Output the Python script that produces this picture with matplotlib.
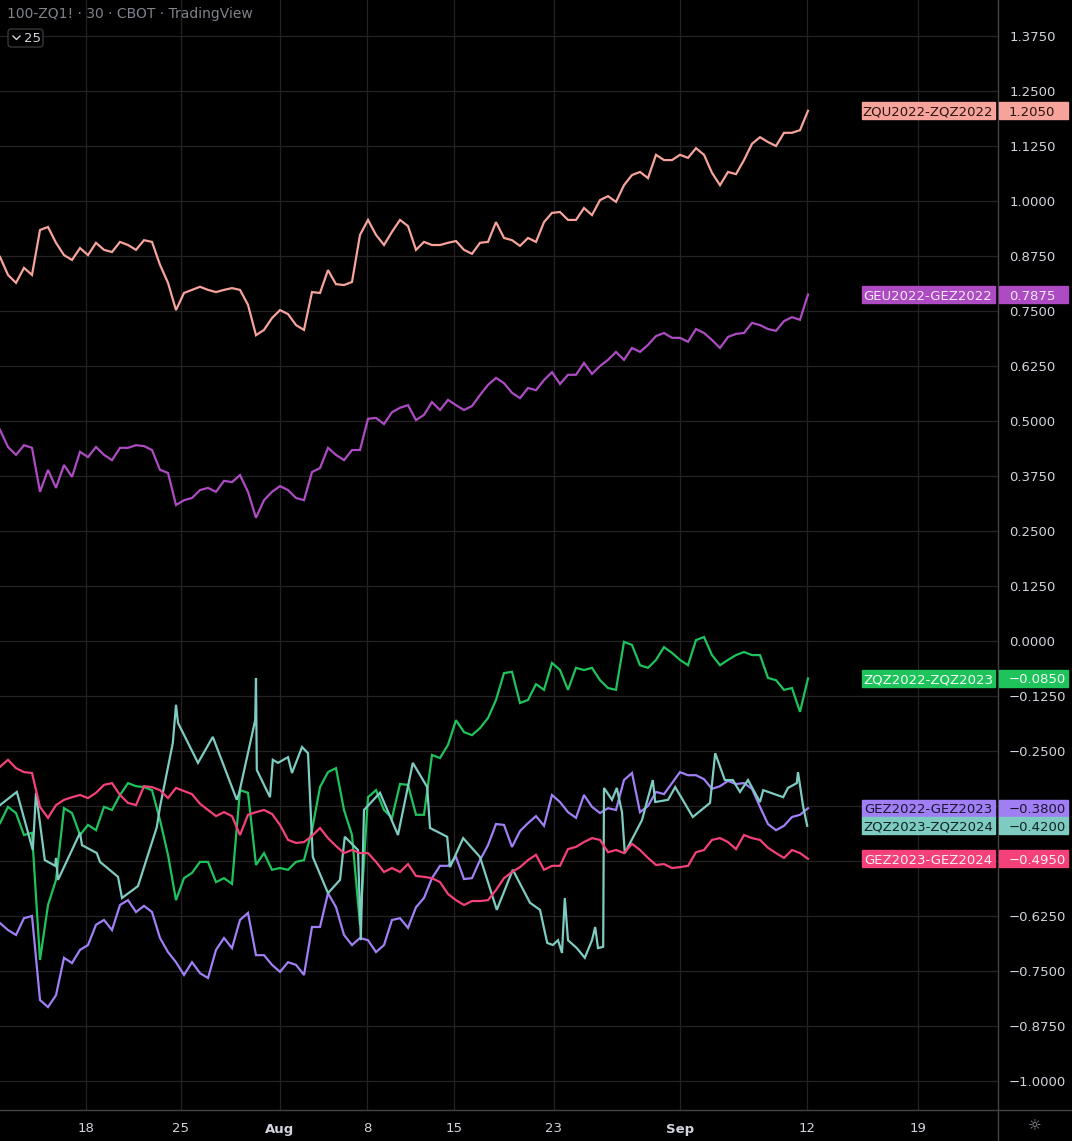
import numpy as np
import matplotlib.pyplot as plt
import matplotlib.transforms as mtransforms
from matplotlib.lines import Line2D
from matplotlib.patches import Rectangle, FancyBboxPatch

# spread closes off the 30 min chart, read every ~4 bars (index = bar / 4)
zqu_zqz22 = [0.873, 0.832, 0.814, 0.848, 0.832, 0.934, 0.941, 0.905, 0.877, 0.866,
             0.893, 0.877, 0.905, 0.889, 0.884, 0.907, 0.900, 0.889, 0.911, 0.907,
             0.855, 0.814, 0.752, 0.791, 0.798, 0.805, 0.798, 0.793, 0.798, 0.802,
             0.798, 0.764, 0.695, 0.707, 0.734, 0.752, 0.743, 0.718, 0.707, 0.793,
             0.791, 0.843, 0.811, 0.809, 0.816, 0.923, 0.957, 0.923, 0.900, 0.930,
             0.957, 0.943, 0.889, 0.907, 0.900, 0.900, 0.905, 0.909, 0.889, 0.880,
             0.905, 0.907, 0.952, 0.916, 0.911, 0.898, 0.916, 0.907, 0.952, 0.973,
             0.975, 0.957, 0.957, 0.984, 0.968, 1.002, 1.011, 0.998, 1.036, 1.059,
             1.066, 1.052, 1.105, 1.093, 1.093, 1.105, 1.098, 1.120, 1.105, 1.064,
             1.036, 1.066, 1.061, 1.093, 1.130, 1.145, 1.134, 1.125, 1.155, 1.155,
             1.161, 1.205]

geu_gez22 = [0.480, 0.441, 0.423, 0.445, 0.439, 0.339, 0.389, 0.348, 0.400, 0.373,
             0.430, 0.418, 0.441, 0.423, 0.411, 0.439, 0.439, 0.445, 0.443, 0.434,
             0.389, 0.382, 0.309, 0.320, 0.325, 0.343, 0.348, 0.339, 0.364, 0.361,
             0.377, 0.339, 0.280, 0.320, 0.339, 0.352, 0.343, 0.325, 0.320, 0.384,
             0.393, 0.439, 0.423, 0.411, 0.434, 0.434, 0.505, 0.507, 0.493, 0.520,
             0.530, 0.536, 0.502, 0.514, 0.543, 0.525, 0.548, 0.536, 0.525, 0.534,
             0.559, 0.582, 0.598, 0.586, 0.564, 0.552, 0.575, 0.570, 0.593, 0.611,
             0.584, 0.605, 0.605, 0.632, 0.607, 0.625, 0.639, 0.657, 0.639, 0.666,
             0.657, 0.673, 0.693, 0.700, 0.689, 0.689, 0.680, 0.709, 0.700, 0.684,
             0.666, 0.691, 0.698, 0.700, 0.723, 0.718, 0.709, 0.705, 0.727, 0.736,
             0.730, 0.7875]

zqz22_zqz23 = [-0.414, -0.377, -0.391, -0.441, -0.436, -0.725, -0.600, -0.543, -0.380, -0.391,
               -0.441, -0.418, -0.430, -0.377, -0.384, -0.350, -0.323, -0.330, -0.332, -0.339,
               -0.407, -0.486, -0.589, -0.539, -0.527, -0.502, -0.502, -0.548, -0.539, -0.552,
               -0.339, -0.345, -0.509, -0.482, -0.520, -0.516, -0.520, -0.502, -0.498, -0.430,
               -0.332, -0.298, -0.289, -0.384, -0.441, -0.645, -0.355, -0.339, -0.384, -0.402,
               -0.325, -0.327, -0.395, -0.395, -0.259, -0.266, -0.236, -0.180, -0.207, -0.214,
               -0.198, -0.175, -0.134, -0.073, -0.070, -0.141, -0.134, -0.098, -0.111, -0.050,
               -0.066, -0.111, -0.061, -0.066, -0.061, -0.089, -0.107, -0.111, -0.002, -0.009,
               -0.055, -0.061, -0.043, -0.014, -0.027, -0.043, -0.055, 0.002, 0.009, -0.032,
               -0.055, -0.043, -0.032, -0.025, -0.032, -0.032, -0.084, -0.089, -0.111, -0.107,
               -0.161, -0.085]

gez22_gez23 = [-0.641, -0.657, -0.668, -0.630, -0.625, -0.816, -0.832, -0.805, -0.720, -0.732,
               -0.702, -0.691, -0.645, -0.634, -0.657, -0.600, -0.589, -0.616, -0.602, -0.616,
               -0.675, -0.707, -0.730, -0.759, -0.730, -0.755, -0.766, -0.702, -0.675, -0.698,
               -0.634, -0.618, -0.714, -0.714, -0.736, -0.752, -0.730, -0.736, -0.759, -0.650,
               -0.650, -0.573, -0.605, -0.668, -0.691, -0.675, -0.680, -0.707, -0.691, -0.634,
               -0.630, -0.652, -0.605, -0.584, -0.539, -0.511, -0.511, -0.491, -0.541, -0.539,
               -0.498, -0.464, -0.416, -0.418, -0.468, -0.432, -0.414, -0.398, -0.420, -0.350,
               -0.366, -0.389, -0.402, -0.350, -0.377, -0.391, -0.380, -0.384, -0.316, -0.300,
               -0.389, -0.375, -0.343, -0.348, -0.323, -0.298, -0.305, -0.305, -0.314, -0.336,
               -0.330, -0.318, -0.325, -0.323, -0.336, -0.377, -0.416, -0.430, -0.420, -0.400,
               -0.395, -0.380]

gez23_gez24 = [-0.286, -0.270, -0.289, -0.298, -0.300, -0.377, -0.402, -0.373, -0.361, -0.355,
               -0.350, -0.357, -0.345, -0.327, -0.323, -0.350, -0.368, -0.373, -0.330, -0.332,
               -0.339, -0.357, -0.334, -0.341, -0.348, -0.370, -0.384, -0.398, -0.389, -0.398,
               -0.441, -0.395, -0.389, -0.384, -0.393, -0.418, -0.452, -0.459, -0.457, -0.443,
               -0.425, -0.448, -0.466, -0.482, -0.475, -0.482, -0.482, -0.502, -0.525, -0.516,
               -0.525, -0.507, -0.534, -0.536, -0.539, -0.548, -0.575, -0.589, -0.600, -0.591,
               -0.591, -0.589, -0.566, -0.539, -0.525, -0.514, -0.498, -0.486, -0.520, -0.511,
               -0.511, -0.473, -0.468, -0.457, -0.448, -0.452, -0.480, -0.475, -0.482, -0.461,
               -0.475, -0.493, -0.509, -0.507, -0.516, -0.514, -0.511, -0.480, -0.475, -0.452,
               -0.448, -0.457, -0.473, -0.441, -0.448, -0.452, -0.470, -0.482, -0.493, -0.475,
               -0.482, -0.495]

# ZQZ2023-ZQZ2024 barely trades, so only the bars that printed
zqz23_idx = [0, 2.1, 4.1, 4.5, 5.6, 6.9, 7.0, 7.25, 10.0, 10.25, 12.1, 12.5, 14.75, 15.25,
             17.25, 19.6, 20.0, 21.6, 22.0, 22.25, 24.75, 26.6, 29.6, 29.9, 31.9, 32.0,
             32.1, 33.75, 34.1, 34.75, 36.0, 36.5, 37.75, 38.5, 39.1, 41.0, 42.5, 43.1,
             44.75, 45.1, 45.5, 47.5, 49.75, 51.6, 53.4, 53.75, 55.9, 56.25, 57.9, 60.0,
             62.1, 64.1, 66.25, 67.5, 68.4, 69.1, 69.75, 70.25, 70.6, 71.0, 72.1, 73.1,
             74.0, 74.4, 74.75, 75.4, 75.5, 76.5, 77.1, 77.75, 78.1, 80.25, 81.6, 81.9,
             83.5, 84.4, 86.6, 88.75, 89.4, 90.6, 91.6, 92.5, 93.5, 95.0, 95.4, 97.9,
             98.5, 99.6, 99.75, 100.4, 100.9]
zqz23_zqz24 = [-0.373, -0.343, -0.475, -0.345, -0.498, -0.511, -0.493, -0.543, -0.436, -0.464,
               -0.482, -0.502, -0.536, -0.584, -0.557, -0.423, -0.377, -0.232, -0.145, -0.186,
               -0.277, -0.218, -0.361, -0.345, -0.180, -0.084, -0.293, -0.355, -0.270, -0.277,
               -0.264, -0.300, -0.241, -0.255, -0.491, -0.573, -0.543, -0.445, -0.475, -0.680,
               -0.384, -0.345, -0.441, -0.277, -0.332, -0.425, -0.445, -0.514, -0.448, -0.491,
               -0.611, -0.520, -0.595, -0.611, -0.686, -0.691, -0.680, -0.709, -0.584, -0.680,
               -0.698, -0.720, -0.680, -0.650, -0.698, -0.695, -0.334, -0.361, -0.334, -0.389,
               -0.482, -0.407, -0.316, -0.366, -0.361, -0.332, -0.400, -0.368, -0.255, -0.316,
               -0.316, -0.343, -0.316, -0.366, -0.339, -0.355, -0.334, -0.323, -0.298, -0.377,
               -0.420]

# date labels and where they fall on the bar index
tick_pos = [10.75, 22.6, 35.0, 45.9, 56.75, 69.25, 85.0, 100.9, 114.75]
tick_lab = ["18", "25", "Aug", "8", "15", "23", "Sep", "12", "19"]
price_ticks = np.arange(-1.0, 1.376, 0.125)
hidden_ticks = [-0.375, -0.5]

series = [
    ("ZQU2022-ZQZ2022", None, zqu_zqz22, "#f5a39b", "#2a1512"),
    ("GEU2022-GEZ2022", None, geu_gez22, "#ad4bc2", "#f4e8f7"),
    ("ZQZ2022-ZQZ2023", None, zqz22_zqz23, "#1fc35c", "#f2fff6"),
    ("GEZ2022-GEZ2023", None, gez22_gez23, "#a07ff5", "#1c1530"),
    ("ZQZ2023-ZQZ2024", zqz23_idx, zqz23_zqz24, "#7ecbc1", "#0f2420"),
    ("GEZ2023-GEZ2024", None, gez23_gez24, "#f4417a", "#fff0f4"),
]

W, H = 1072, 1141
fig = plt.figure(figsize=(W / 100, H / 100), dpi=100, facecolor="black")
ax = fig.add_axes([0, 31 / H, 998 / W, 1110 / H], facecolor="black")

for name, xs, ys, col, tcol in series:
    if xs is None:
        xs = np.arange(len(ys))
    ax.plot(xs, ys, color=col, lw=1.6, solid_joinstyle="miter")

ax.set_xlim(0, 124.75)
ax.set_ylim(-1.06591, 1.45682)

ax.set_yticks(price_ticks)
ylabels = []
for t in price_ticks:
    if any(abs(t - h) < 1e-6 for h in hidden_ticks):
        ylabels.append("")
    else:
        ylabels.append(f"{t:.4f}".replace("-", "\u2212"))
ax.set_yticklabels(ylabels)
ax.yaxis.tick_right()
ax.tick_params(axis="y", length=0, pad=8, labelsize=9.5, labelcolor="#d1d4dc")

ax.set_xticks(tick_pos)
ax.set_xticklabels(tick_lab)
ax.tick_params(axis="x", length=0, pad=9, labelsize=9.5, labelcolor="#d1d4dc")
for lab in ax.get_xticklabels():
    if lab.get_text() in ("Aug", "Sep"):
        lab.set_fontweight("bold")

ax.grid(True, color="#232323", lw=0.9)
ax.set_axisbelow(True)
for s in ax.spines.values():
    s.set_visible(False)

# separators of the price and time scales
fig.add_artist(Line2D([998 / W, 998 / W], [0, 1], transform=fig.transFigure, color="#434343", lw=1))
fig.add_artist(Line2D([0, 1], [31 / H, 31 / H], transform=fig.transFigure, color="#434343", lw=1))

# last value tags on the price scale
trans = mtransforms.blended_transform_factory(fig.transFigure, ax.transData)
box_h = 17 / 440
for name, xs, ys, col, tcol in series:
    last = ys[-1]
    fig.add_artist(Rectangle((862 / W, last - box_h / 2), 133 / W, box_h,
                             transform=trans, color=col, zorder=5))
    fig.add_artist(Rectangle((999 / W, last - box_h / 2), 69 / W, box_h,
                             transform=trans, color=col, zorder=5))
    fig.text(928 / W, last, name, transform=trans, color=tcol, fontsize=9.5,
             ha="center", va="center_baseline", zorder=6)
    fig.text(1009 / W, last, f"{last:.4f}".replace("-", "\u2212"), transform=trans,
             color=tcol, fontsize=9.5, ha="left", va="center_baseline", zorder=6)

# header
fig.text(7 / W, 1 - 14 / H, "100-ZQ1! \u00b7 30 \u00b7 CBOT \u00b7 TradingView",
         color="#80838c", fontsize=10, ha="left", va="center")
fig.add_artist(FancyBboxPatch((8 / W, 1 - 47 / H), 35 / W, 18 / H,
                              boxstyle="round,pad=0,rounding_size=0.003",
                              transform=fig.transFigure, fc="black", ec="#3d3d3d", lw=0.9))
fig.add_artist(Line2D([13 / W, 16.5 / W, 20 / W], [1 - 36 / H, 1 - 39.5 / H, 1 - 36 / H],
                      transform=fig.transFigure, color="#d1d4dc", lw=1))
fig.text(24 / W, 1 - 38 / H, "25", color="#d1d4dc", fontsize=9.5, ha="left", va="center")
fig.text(1035 / W, 1 - 1126 / H, "\u263c", color="#9a9da5", fontsize=11, ha="center", va="center")

fig.savefig("out.png", dpi=100, facecolor="black")
